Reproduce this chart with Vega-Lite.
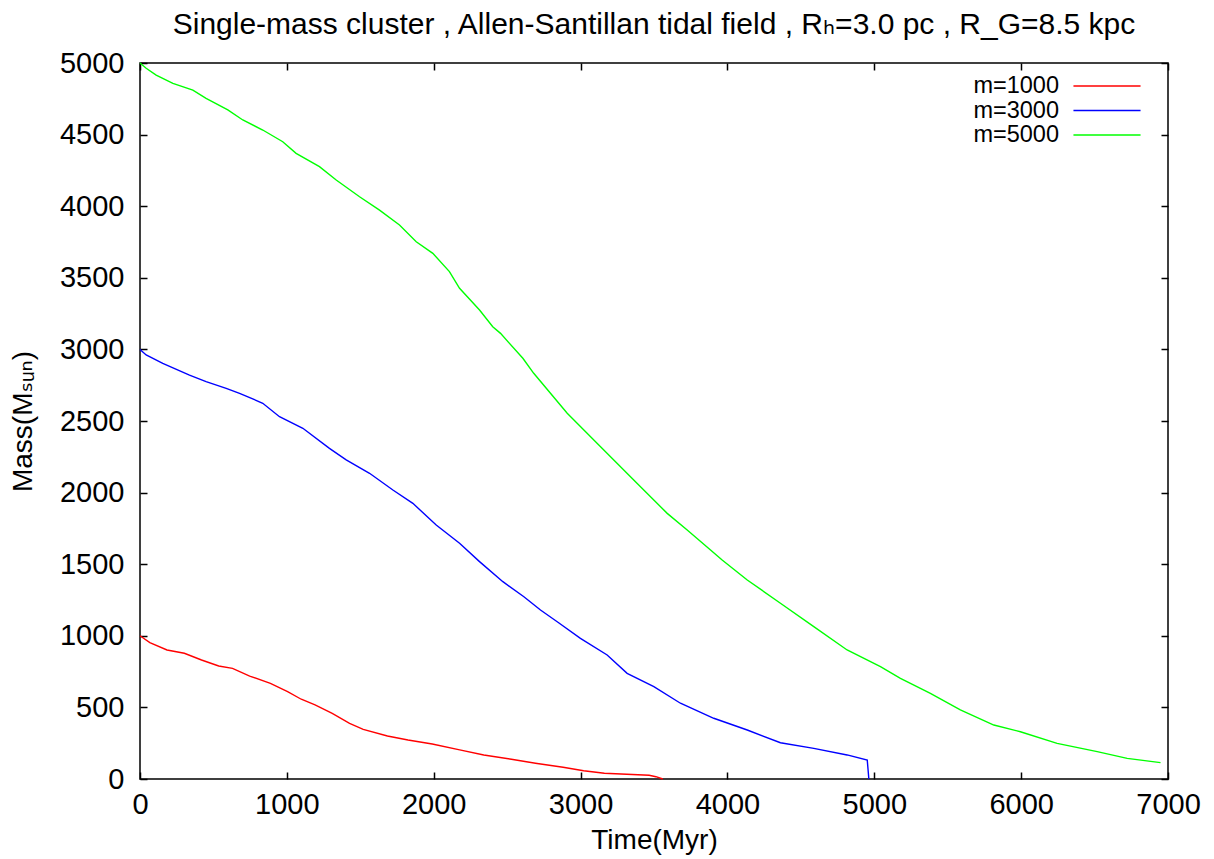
{
  "$schema": "https://vega.github.io/schema/vega-lite/v6.json",
  "width": 1028,
  "height": 716,
  "autosize": {"type": "none"},
  "padding": {"left": 140, "top": 63, "right": 46, "bottom": 80},
  "background": "white",
  "config": {
    "font": "Liberation Sans, DejaVu Sans",
    "view": {"stroke": "black", "strokeWidth": 1.5}
  },
  "title": {
    "text": "Single-mass cluster , Allen-Santillan tidal field , Rₕ=3.0 pc , R_G=8.5 kpc",
    "fontSize": 30,
    "fontWeight": "normal",
    "color": "black",
    "anchor": "middle",
    "offset": 9
  },
  "data": {
    "values": [
      {"t": 0, "m": 1000, "s": "m=1000"},
      {"t": 67, "m": 952, "s": "m=1000"},
      {"t": 184, "m": 901, "s": "m=1000"},
      {"t": 302, "m": 878, "s": "m=1000"},
      {"t": 419, "m": 831, "s": "m=1000"},
      {"t": 536, "m": 789, "s": "m=1000"},
      {"t": 630, "m": 773, "s": "m=1000"},
      {"t": 747, "m": 719, "s": "m=1000"},
      {"t": 888, "m": 668, "s": "m=1000"},
      {"t": 1005, "m": 610, "s": "m=1000"},
      {"t": 1098, "m": 557, "s": "m=1000"},
      {"t": 1192, "m": 517, "s": "m=1000"},
      {"t": 1309, "m": 459, "s": "m=1000"},
      {"t": 1427, "m": 389, "s": "m=1000"},
      {"t": 1520, "m": 347, "s": "m=1000"},
      {"t": 1685, "m": 300, "s": "m=1000"},
      {"t": 1825, "m": 272, "s": "m=1000"},
      {"t": 1990, "m": 244, "s": "m=1000"},
      {"t": 2177, "m": 203, "s": "m=1000"},
      {"t": 2341, "m": 168, "s": "m=1000"},
      {"t": 2529, "m": 138, "s": "m=1000"},
      {"t": 2693, "m": 110, "s": "m=1000"},
      {"t": 2881, "m": 82, "s": "m=1000"},
      {"t": 3021, "m": 58, "s": "m=1000"},
      {"t": 3162, "m": 40, "s": "m=1000"},
      {"t": 3467, "m": 26, "s": "m=1000"},
      {"t": 3513, "m": 16, "s": "m=1000"},
      {"t": 3560, "m": 0, "s": "m=1000"},

      {"t": 0, "m": 3000, "s": "m=3000"},
      {"t": 42, "m": 2961, "s": "m=3000"},
      {"t": 155, "m": 2903, "s": "m=3000"},
      {"t": 337, "m": 2821, "s": "m=3000"},
      {"t": 450, "m": 2775, "s": "m=3000"},
      {"t": 587, "m": 2728, "s": "m=3000"},
      {"t": 678, "m": 2693, "s": "m=3000"},
      {"t": 836, "m": 2624, "s": "m=3000"},
      {"t": 950, "m": 2530, "s": "m=3000"},
      {"t": 1109, "m": 2449, "s": "m=3000"},
      {"t": 1290, "m": 2309, "s": "m=3000"},
      {"t": 1404, "m": 2228, "s": "m=3000"},
      {"t": 1563, "m": 2135, "s": "m=3000"},
      {"t": 1722, "m": 2018, "s": "m=3000"},
      {"t": 1858, "m": 1925, "s": "m=3000"},
      {"t": 2017, "m": 1774, "s": "m=3000"},
      {"t": 2176, "m": 1646, "s": "m=3000"},
      {"t": 2312, "m": 1518, "s": "m=3000"},
      {"t": 2471, "m": 1378, "s": "m=3000"},
      {"t": 2614, "m": 1273, "s": "m=3000"},
      {"t": 2727, "m": 1180, "s": "m=3000"},
      {"t": 2841, "m": 1098, "s": "m=3000"},
      {"t": 2999, "m": 982, "s": "m=3000"},
      {"t": 3181, "m": 866, "s": "m=3000"},
      {"t": 3317, "m": 738, "s": "m=3000"},
      {"t": 3499, "m": 645, "s": "m=3000"},
      {"t": 3680, "m": 529, "s": "m=3000"},
      {"t": 3907, "m": 424, "s": "m=3000"},
      {"t": 4135, "m": 342, "s": "m=3000"},
      {"t": 4361, "m": 253, "s": "m=3000"},
      {"t": 4588, "m": 214, "s": "m=3000"},
      {"t": 4815, "m": 168, "s": "m=3000"},
      {"t": 4952, "m": 133, "s": "m=3000"},
      {"t": 4963, "m": 0, "s": "m=3000"},

      {"t": 0, "m": 5000, "s": "m=5000"},
      {"t": 42, "m": 4963, "s": "m=5000"},
      {"t": 110, "m": 4916, "s": "m=5000"},
      {"t": 224, "m": 4858, "s": "m=5000"},
      {"t": 360, "m": 4811, "s": "m=5000"},
      {"t": 450, "m": 4753, "s": "m=5000"},
      {"t": 598, "m": 4672, "s": "m=5000"},
      {"t": 700, "m": 4602, "s": "m=5000"},
      {"t": 836, "m": 4532, "s": "m=5000"},
      {"t": 972, "m": 4450, "s": "m=5000"},
      {"t": 1063, "m": 4369, "s": "m=5000"},
      {"t": 1222, "m": 4276, "s": "m=5000"},
      {"t": 1336, "m": 4183, "s": "m=5000"},
      {"t": 1495, "m": 4066, "s": "m=5000"},
      {"t": 1631, "m": 3973, "s": "m=5000"},
      {"t": 1767, "m": 3869, "s": "m=5000"},
      {"t": 1881, "m": 3752, "s": "m=5000"},
      {"t": 1994, "m": 3671, "s": "m=5000"},
      {"t": 2107, "m": 3543, "s": "m=5000"},
      {"t": 2176, "m": 3427, "s": "m=5000"},
      {"t": 2312, "m": 3275, "s": "m=5000"},
      {"t": 2402, "m": 3158, "s": "m=5000"},
      {"t": 2455, "m": 3112, "s": "m=5000"},
      {"t": 2607, "m": 2938, "s": "m=5000"},
      {"t": 2681, "m": 2833, "s": "m=5000"},
      {"t": 2909, "m": 2554, "s": "m=5000"},
      {"t": 3136, "m": 2321, "s": "m=5000"},
      {"t": 3362, "m": 2088, "s": "m=5000"},
      {"t": 3590, "m": 1855, "s": "m=5000"},
      {"t": 3726, "m": 1739, "s": "m=5000"},
      {"t": 3885, "m": 1599, "s": "m=5000"},
      {"t": 3964, "m": 1529, "s": "m=5000"},
      {"t": 4135, "m": 1390, "s": "m=5000"},
      {"t": 4361, "m": 1227, "s": "m=5000"},
      {"t": 4588, "m": 1064, "s": "m=5000"},
      {"t": 4815, "m": 901, "s": "m=5000"},
      {"t": 5042, "m": 784, "s": "m=5000"},
      {"t": 5178, "m": 703, "s": "m=5000"},
      {"t": 5382, "m": 598, "s": "m=5000"},
      {"t": 5586, "m": 482, "s": "m=5000"},
      {"t": 5814, "m": 377, "s": "m=5000"},
      {"t": 5995, "m": 330, "s": "m=5000"},
      {"t": 6245, "m": 249, "s": "m=5000"},
      {"t": 6518, "m": 191, "s": "m=5000"},
      {"t": 6722, "m": 144, "s": "m=5000"},
      {"t": 6949, "m": 114, "s": "m=5000"}
    ]
  },
  "layer": [
    {
      "mark": {"type": "line", "strokeWidth": 1.4},
      "encoding": {
        "x": {
          "field": "t", "type": "quantitative",
          "scale": {"domain": [0, 7000], "nice": false, "zero": false},
          "axis": {
            "orient": "bottom",
            "values": [0, 1000, 2000, 3000, 4000, 5000, 6000, 7000],
            "format": "d",
            "domain": false, "grid": false,
            "ticks": true, "tickSize": -7, "tickWidth": 1.5, "tickColor": "black",
            "labelFontSize": 29, "labelColor": "black", "labelPadding": 18,
            "labelFlush": false, "labelOverlap": false,
            "title": "Time(Myr)", "titleFontSize": 28, "titleFontWeight": "normal",
            "titleColor": "black", "titlePadding": 7
          }
        },
        "y": {
          "field": "m", "type": "quantitative",
          "scale": {"domain": [0, 5000], "nice": false},
          "axis": {
            "orient": "left",
            "values": [0, 500, 1000, 1500, 2000, 2500, 3000, 3500, 4000, 4500, 5000],
            "format": "d",
            "domain": false, "grid": false,
            "ticks": true, "tickSize": -7, "tickWidth": 1.5, "tickColor": "black",
            "labelFontSize": 29, "labelColor": "black", "labelPadding": 23,
            "labelFlush": false, "labelOverlap": false,
            "title": "Mass(Mₛᵤₙ)", "titleFontSize": 28, "titleFontWeight": "normal",
            "titleColor": "black", "titlePadding": 22
          }
        },
        "color": {
          "field": "s", "type": "nominal",
          "scale": {"domain": ["m=1000", "m=3000", "m=5000"], "range": ["#ff0000", "#0000ff", "#00ff00"]},
          "legend": {
            "title": null,
            "orient": "none",
            "legendX": 955,
            "legendY": 11,
            "padding": 0,
            "symbolType": "M-3.05,0H3.05",
            "symbolSize": 484,
            "symbolStrokeWidth": 1.5,
            "labelFontSize": 23.5,
            "labelColor": "black",
            "labelAlign": "right",
            "labelOffset": -60,
            "rowPadding": 0.5
          }
        }
      }
    },
    {
      "mark": {"type": "point", "opacity": 0},
      "encoding": {
        "x": {
          "field": "t", "type": "quantitative",
          "scale": {"domain": [0, 7000], "nice": false, "zero": false},
          "axis": {
            "orient": "top",
            "values": [0, 1000, 2000, 3000, 4000, 5000, 6000, 7000],
            "domain": false, "grid": false, "labels": false, "title": null,
            "ticks": true, "tickSize": -7, "tickWidth": 1.5, "tickColor": "black"
          }
        },
        "y": {
          "field": "m", "type": "quantitative",
          "scale": {"domain": [0, 5000], "nice": false},
          "axis": {
            "orient": "right",
            "values": [0, 500, 1000, 1500, 2000, 2500, 3000, 3500, 4000, 4500, 5000],
            "domain": false, "grid": false, "labels": false, "title": null,
            "ticks": true, "tickSize": -7, "tickWidth": 1.5, "tickColor": "black"
          }
        }
      }
    }
  ],
  "resolve": {"axis": {"x": "independent", "y": "independent"}}
}
